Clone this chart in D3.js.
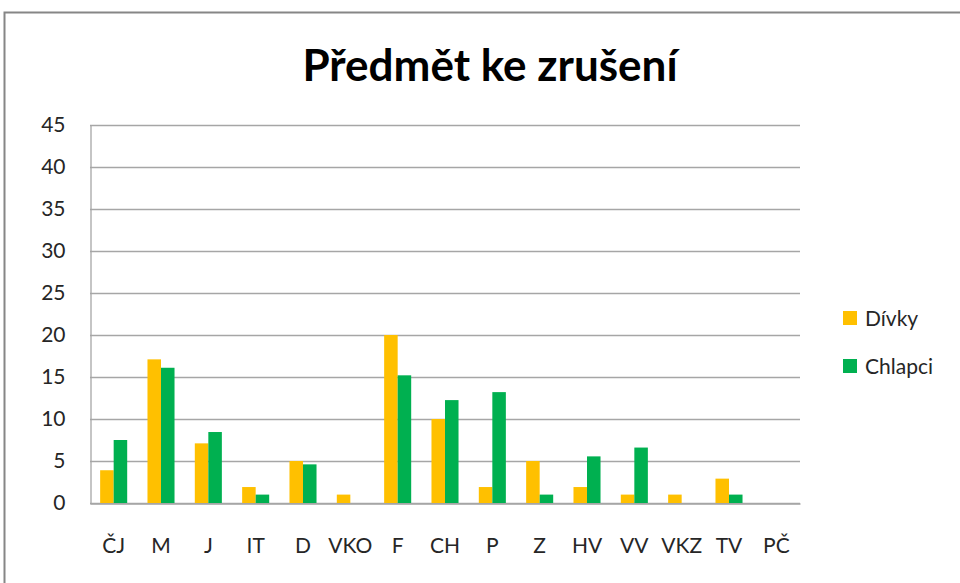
<!DOCTYPE html>
<html><head><meta charset="utf-8">
<script src="https://cdn.jsdelivr.net/npm/d3@7"></script>
<style>body{margin:0;background:#fff}svg{display:block}</style>
</head><body>
<svg id="c" width="960" height="583"></svg>
<script>
const categories = ["ČJ","M","J","IT","D","VKO","F","CH","P","Z","HV","VV","VKZ","TV","PČ"];
const divky   = [3.9,17.1,7.1,1.9,5,1,20,10,1.9,5,1.9,1,1,2.9,0];
const chlapci = [7.5,16.1,8.45,1,4.6,0,15.2,12.25,13.2,1,5.55,6.6,0,1,0];
const seriesNames = ["Dívky","Chlapci"];
const colors = ["#FFC000","#00B050"];
const yTicks = [0,5,10,15,20,25,30,35,40,45];

const svg = d3.select("#c");
const font = "Lato, 'Open Sans', sans-serif";
svg.append("rect").attr("x",4.5).attr("y",12.5).attr("width",1000).attr("height",1000)
  .attr("fill","#fff").attr("stroke","#868686").attr("stroke-width",2);

const m = {l:90, r:800, t:125, b:503};
const x = d3.scaleBand().domain(categories).range([m.l,m.r]).paddingInner(0.4286).paddingOuter(0.2143);
const xs = d3.scaleBand().domain(seriesNames).range([0,x.bandwidth()]);
const y = d3.scaleLinear().domain([0,45]).range([m.b,m.t]);

// gridlines
svg.append("g").selectAll("line").data(yTicks).join("line")
  .attr("x1",m.l).attr("x2",m.r).attr("y1",d=>Math.round(y(d))+0.5).attr("y2",d=>Math.round(y(d))+0.5)
  .attr("stroke","#A6A6A6").attr("stroke-width",1.3);

const data = [divky, chlapci];
data.forEach((vals,si)=>{
  svg.append("g").selectAll("rect").data(vals).join("rect")
    .attr("x",(d,i)=>x(categories[i])+xs(seriesNames[si]))
    .attr("width",xs.bandwidth())
    .attr("y",d=>y(d)).attr("height",d=>y(0)-y(d))
    .attr("fill",colors[si]);
});

// axes
const yAxis = d3.axisLeft(y).tickValues(yTicks).tickSize(0).tickPadding(25);
const gy = svg.append("g").attr("transform",`translate(${m.l+0.5},0)`).call(yAxis);
gy.select(".domain").attr("stroke","#A6A6A6").attr("stroke-width",1.3);
gy.selectAll("text").attr("font-family",font).attr("font-size",21).attr("fill","#262626");

const xAxis = d3.axisBottom(x).tickSize(0).tickPadding(35);
const gx = svg.append("g").attr("transform",`translate(0,${Math.round(y(0))+0.5})`).call(xAxis);
gx.select(".domain").attr("stroke","#A6A6A6").attr("stroke-width",1.3);
gx.selectAll("text").attr("font-family",font).attr("font-size",21).attr("fill","#262626");

// title
svg.append("text").attr("x",490).attr("y",81).attr("text-anchor","middle")
  .attr("font-family",font).attr("font-weight","bold").attr("font-size",44).attr("fill","#000")
  .text("Předmět ke zrušení");

// legend
const lg = svg.append("g");
seriesNames.forEach((n,i)=>{
  const yy = 311 + i*48;
  lg.append("rect").attr("x",843).attr("y",yy).attr("width",14).attr("height",14).attr("fill",colors[i]);
  lg.append("text").attr("x",865).attr("y",yy+15).attr("font-family",font).attr("font-size",21)
    .attr("fill","#262626").text(n);
});
</script>
</body></html>
